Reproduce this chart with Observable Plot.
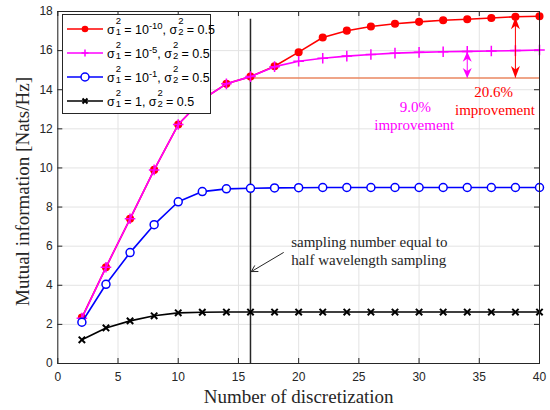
<!DOCTYPE html>
<html><head><meta charset="utf-8">
<script src="https://cdn.jsdelivr.net/npm/d3@7"></script>
<script src="https://cdn.jsdelivr.net/npm/@observablehq/plot@0.6"></script>
<style>
body{margin:0;background:#fff;}
#wrap{position:relative;width:550px;height:410px;}
#legend{position:absolute;left:62px;top:14px;width:149px;height:100px;border:1px solid #262626;background:#fff;font-family:Arial,"Liberation Sans",sans-serif;font-size:12.5px;color:#000;box-sizing:border-box;}
.row{position:absolute;left:3px;height:24px;display:flex;align-items:center;white-space:nowrap;line-height:14px;}
.row svg{display:block;margin-right:3px;}
.st{position:relative;display:inline-block;width:6px;height:12px;vertical-align:baseline;}
.st .a{position:absolute;left:1px;top:-6px;font-size:9.5px;line-height:10px;}
.st .b{position:absolute;left:1px;top:5px;font-size:9.5px;line-height:10px;}
.sp{font-size:9.5px;position:relative;top:-5px;line-height:0;}
</style></head>
<body><div id="wrap"><div id="chart"></div><div id="legend"></div></div>
<script>
const xs = [2,4,6,8,10,12,14,16,18,20,22,24,26,28,30,32,34,36,38,40];
const red   = [2.35,4.92,7.40,9.90,12.22,13.5,14.30,14.67,15.20,15.92,16.67,17.02,17.23,17.37,17.47,17.55,17.60,17.67,17.73,17.76];
const pink  = [2.32,4.92,7.40,9.90,12.22,13.5,14.30,14.67,15.18,15.46,15.61,15.72,15.80,15.87,15.91,15.94,15.96,15.98,16.00,16.03];
const blue  = [2.11,4.05,5.67,7.10,8.27,8.79,8.93,8.96,8.98,8.99,9.00,9.00,9.00,9.00,9.00,9.00,9.00,9.00,9.00,9.00];
const black = [1.21,1.82,2.18,2.44,2.59,2.62,2.63,2.63,2.63,2.63,2.63,2.63,2.63,2.63,2.63,2.63,2.63,2.63,2.63,2.63];
const xTicks = [0,5,10,15,20,25,30,35,40];
const yTicks = [0,2,4,6,8,10,12,14,16,18];
const seriesNames = ["1e-10","1e-5","1e-1","1"];
const sigma1Exp = ["-10","-5","-1",null];
const colors = ["#ff0000","#ff00ff","#0000ff","#000000"];
const baseline = 14.6;          // value at half-wavelength sampling
const halfWaveX = 16;
const improvements = ["9.0%","20.6%"];

const rows = (ys, s) => xs.map((x,i)=>({x, y: ys[i], s}));
const dRed = rows(red,0), dPink = rows(pink,1), dBlue = rows(blue,2), dBlack = rows(black,3);

const headUp = {draw(c){c.moveTo(0,0);c.lineTo(4.5,12);c.lineTo(0,8.5);c.lineTo(-4.5,12);c.closePath();}};
const headDown = {draw(c){c.moveTo(0,0);c.lineTo(4.5,-12);c.lineTo(0,-8.5);c.lineTo(-4.5,-12);c.closePath();}};
const headUpS = {draw(c){c.moveTo(0,0);c.lineTo(4.5,10);c.lineTo(0,7);c.lineTo(-4.5,10);c.closePath();}};
const headDownS = {draw(c){c.moveTo(0,0);c.lineTo(4.5,-10);c.lineTo(0,-7);c.lineTo(-4.5,-10);c.closePath();}};

const pinkTop = pink[xs.indexOf(34)] - 0.02;
const redTop = red[xs.indexOf(38)] - 0.02;

const W=550,H=410,mL=57.3,mR=11,mT=11,mB=47;
const pw=W-mL-mR, ph=H-mT-mB;
const serif = '"Liberation Serif","Times New Roman",serif';
const ink = "#262626";

const chart = Plot.plot({
  width:W, height:H, marginLeft:mL, marginRight:mR, marginTop:mT, marginBottom:mB,
  style:{fontFamily:'Arial,"Liberation Sans",sans-serif', fontSize:"12px", color:ink, background:"#fff", overflow:"visible"},
  x:{domain:[0,40]},
  y:{domain:[0,18]},
  marks:[
    Plot.gridX(xTicks,{stroke:"#e3e3e3", strokeOpacity:1}),
    Plot.gridY(yTicks,{stroke:"#e3e3e3", strokeOpacity:1}),
    Plot.tickX(xTicks,{x:d=>d, insetTop:ph-5, stroke:ink}),
    Plot.tickX(xTicks,{x:d=>d, insetBottom:ph-5, stroke:ink}),
    Plot.tickY(yTicks,{y:d=>d, insetRight:pw-5, stroke:ink}),
    Plot.tickY(yTicks,{y:d=>d, insetLeft:pw-5, stroke:ink}),
    Plot.axisX(xTicks,{tickSize:0, tickPadding:9, label:null, fontSize:12}),
    Plot.axisY(yTicks,{tickSize:0, tickPadding:5, label:null, fontSize:12}),
    Plot.text(["Number of discretization"],{frameAnchor:"bottom", dy:39, fontFamily:serif, fontSize:19, fill:ink}),
    Plot.text(["Mutual information [Nats/Hz]"],{frameAnchor:"left", textAnchor:"middle", dx:-35, dy:4, rotate:-90, fontFamily:serif, fontSize:19, fill:ink}),
    // half-wavelength reference
    Plot.ruleY([baseline],{x1:halfWaveX, x2:40, stroke:"#ea8760", strokeWidth:1.3}),
    Plot.ruleX([halfWaveX],{y1:0, y2:17.6, stroke:ink, strokeWidth:1.5}),
    // series
    Plot.line(dRed,{x:"x",y:"y",stroke:colors[0],strokeWidth:1.6}),
    Plot.dot(dRed,{x:"x",y:"y",r:3.3,fill:colors[0],stroke:colors[0]}),
    Plot.line(dPink,{x:"x",y:"y",stroke:colors[1],strokeWidth:1.6}),
    Plot.dot(dPink,{x:"x",y:"y",r:3.5,symbol:"plus",stroke:colors[1],strokeWidth:1.5}),
    Plot.line(dBlue,{x:"x",y:"y",stroke:colors[2],strokeWidth:1.6}),
    Plot.dot(dBlue,{x:"x",y:"y",r:4,fill:"#fff",stroke:colors[2],strokeWidth:1.5}),
    Plot.line(dBlack,{x:"x",y:"y",stroke:colors[3],strokeWidth:1.6}),
    Plot.dot(dBlack,{x:"x",y:"y",r:3,symbol:"times",stroke:colors[3],strokeWidth:2}),
    // improvement arrows
    Plot.ruleX([34],{y1:baseline, y2:pinkTop, stroke:colors[1], strokeWidth:1}),
    Plot.dot([{x:34,y:pinkTop}],{x:"x",y:"y",symbol:headUpS,fill:colors[1],stroke:null}),
    Plot.dot([{x:34,y:baseline}],{x:"x",y:"y",symbol:headDownS,fill:colors[1],stroke:null}),
    Plot.ruleX([38],{y1:baseline, y2:redTop, stroke:colors[0], strokeWidth:1}),
    Plot.dot([{x:38,y:redTop}],{x:"x",y:"y",symbol:headUp,fill:colors[0],stroke:null}),
    Plot.dot([{x:38,y:baseline}],{x:"x",y:"y",symbol:headDown,fill:colors[0],stroke:null}),
    Plot.text([improvements[0]],{x:29.7,y:13.09,fill:colors[1],fontFamily:serif,fontSize:15}),
    Plot.text(["improvement"],{x:29.6,y:12.2,fill:colors[1],fontFamily:serif,fontSize:15}),
    Plot.text([improvements[1]],{x:36.2,y:13.85,fill:colors[0],fontFamily:serif,fontSize:15}),
    Plot.text(["improvement"],{x:36.3,y:12.93,fill:colors[0],fontFamily:serif,fontSize:15}),
    // sampling annotation
    Plot.arrow([{x1:18.73,y1:5.67,x2:16.07,y2:4.70}],{x1:"x1",y1:"y1",x2:"x2",y2:"y2",stroke:ink,strokeWidth:1,headLength:10}),
    Plot.text(["sampling number equal to"],{x:19.38,y:6.2,textAnchor:"start",fill:ink,fontFamily:serif,fontSize:15}),
    Plot.text(["half wavelength sampling"],{x:19.38,y:5.3,textAnchor:"start",fill:ink,fontFamily:serif,fontSize:15}),
    Plot.frame({stroke:ink, strokeWidth:1})
  ]
});
document.getElementById("chart").appendChild(chart);

// legend
const leg = document.getElementById("legend");
const markerSvg = (i) => {
  const c = colors[i];
  let m = "";
  if (i===0) m = `<circle cx="19" cy="10" r="3.3" fill="${c}"/>`;
  if (i===1) m = `<path d="M15.5,10H22.5M19,6.5V13.5" stroke="${c}" stroke-width="1.5"/>`;
  if (i===2) m = `<circle cx="19" cy="10" r="4" fill="#fff" stroke="${c}" stroke-width="1.5"/>`;
  if (i===3) m = `<path d="M16.5,7.5L21.5,12.5M21.5,7.5L16.5,12.5" stroke="${c}" stroke-width="2"/>`;
  return `<svg width="38" height="20"><line x1="1" x2="37" y1="10" y2="10" stroke="${c}" stroke-width="1.6"/>${m}</svg>`;
};
const sig = (sub) => `σ<span class="st"><span class="a">2</span><span class="b">${sub}</span></span>`;
seriesNames.forEach((n,i)=>{
  const r = document.createElement("div");
  r.className="row";
  r.style.top = (2 + i*24) + "px";
  const v1 = sigma1Exp[i] ? `10<span class="sp">${sigma1Exp[i]}</span>` : "1";
  r.innerHTML = markerSvg(i) + `<span>${sig(1)} = ${v1}, ${sig(2)} = 0.5</span>`;
  leg.appendChild(r);
});
</script></body></html>
